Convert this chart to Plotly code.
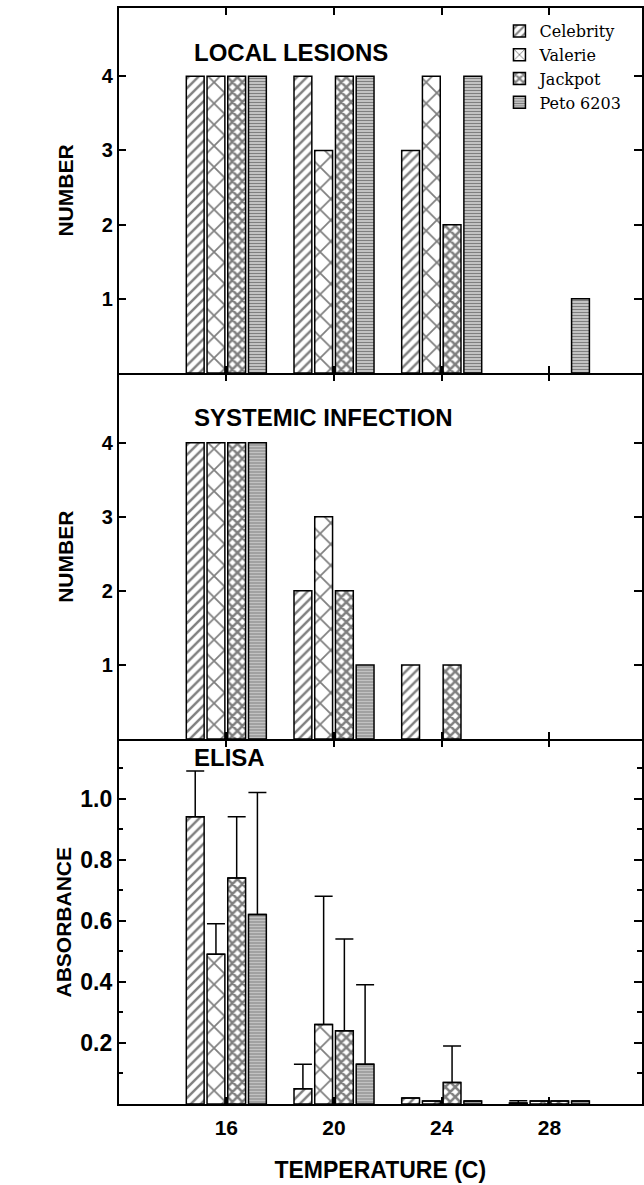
import plotly.graph_objects as go

# ---------------- data ----------------
temps = [16, 20, 24, 28]
cultivars = ["Celebrity", "Valerie", "Jackpot", "Peto 6203"]

local_lesions = {
    "Celebrity": [4, 4, 3, None],
    "Valerie":   [4, 3, 4, None],
    "Jackpot":   [4, 4, 2, None],
    "Peto 6203": [4, 4, 4, 1],
}
systemic_infection = {
    "Celebrity": [4, 2, 1, None],
    "Valerie":   [4, 3, None, None],
    "Jackpot":   [4, 2, 1, None],
    "Peto 6203": [4, 1, None, None],
}
elisa_mean = {
    "Celebrity": [0.94, 0.05, 0.02, 0.003],
    "Valerie":   [0.49, 0.26, 0.01, 0.01],
    "Jackpot":   [0.74, 0.24, 0.07, 0.01],
    "Peto 6203": [0.62, 0.13, 0.01, 0.01],
}
elisa_err = {
    "Celebrity": [0.15, 0.08, 0.0, 0.008],
    "Valerie":   [0.10, 0.42, 0.0, 0.0],
    "Jackpot":   [0.20, 0.30, 0.12, 0.0],
    "Peto 6203": [0.40, 0.26, 0.0, 0.0],
}
number_ticks = [1, 2, 3, 4]
abs_ticks = [0.2, 0.4, 0.6, 0.8, 1.0]
abs_tick_text = ["0.2", "0.4", "0.6", "0.8", "1.0"]
abs_minor = [0.1, 0.3, 0.5, 0.7, 0.9, 1.1]

# ---------------- styles ----------------
patterns = {
    "Celebrity": dict(shape="/", size=7, solidity=0.35, fgcolor="black", bgcolor="white"),
    "Valerie":   dict(shape="x", size=15, solidity=0.22, fgcolor="black", bgcolor="white"),
    "Jackpot":   dict(shape="x", size=7, solidity=0.6, fgcolor="black", bgcolor="white"),
    "Peto 6203": dict(shape="-", size=3, solidity=0.65, fgcolor="black", bgcolor="white"),
}

W, H = 644, 1185
def fy(px):
    return 1 - px / H

LW = 1.5
xdom = [119 / W, 1.0]
doms = [[fy(373), fy(8)], [fy(739), fy(373 + LW)], [fy(1104), fy(739 + LW)]]
ranges = [[0, 4.92], [0, 4.92], [0, 1.19]]
xrange_ = [12, 31.44]

fig = go.Figure()

panels = [local_lesions, systemic_infection, elisa_mean]
for i, data in enumerate(panels):
    xa = "x" if i == 0 else f"x{i+1}"
    ya = "y" if i == 0 else f"y{i+1}"
    for c in cultivars:
        kw = {}
        if i == 2:
            kw["error_y"] = dict(type="data", symmetric=False, array=elisa_err[c],
                                 arrayminus=[0] * len(temps), color="black",
                                 thickness=1.5, width=9)
        fig.add_trace(go.Bar(
            x=temps, y=data[c], name=c, legendgroup=c, showlegend=(i == 0),
            xaxis=xa, yaxis=ya,
            marker=dict(color="white", line=dict(color="black", width=1.5),
                        pattern=patterns[c]),
            **kw))

BLACK = "black"
num_font = dict(family="Liberation Sans", size=20, color=BLACK, weight=700)
abs_font = dict(family="Liberation Sans", size=23, color=BLACK, weight=700)
ytitle_font = dict(family="Liberation Sans", size=21, color=BLACK, weight=700)

fig.update_layout(
    width=W, height=H, margin=dict(l=0, r=0, t=0, b=0),
    paper_bgcolor="white", plot_bgcolor="white",
    barmode="group", bargap=0.23, bargroupgap=0.14,
    showlegend=True,
    legend=dict(x=501 / W, y=fy(14), xanchor="left", yanchor="top",
                bgcolor="rgba(0,0,0,0)",
                font=dict(family="DejaVu Serif", size=16, color=BLACK),
                itemwidth=30, tracegroupgap=0),
)

for i in range(3):
    xk = "xaxis" if i == 0 else f"xaxis{i+1}"
    yk = "yaxis" if i == 0 else f"yaxis{i+1}"
    ya = "y" if i == 0 else f"y{i+1}"
    xa = "x" if i == 0 else f"x{i+1}"
    xcfg = dict(range=xrange_, domain=xdom, anchor=ya, showline=True, linecolor=BLACK,
                linewidth=LW, mirror="ticks", ticks="inside",
                ticklen=7, tickcolor=BLACK, tickwidth=1.5, tickvals=temps,
                showgrid=False, zeroline=False, showticklabels=(i == 2))
    if i == 2:
        xcfg.update(tickfont=dict(family="Liberation Sans", size=21, color=BLACK, weight=700),
                    ticklabelstandoff=4,
                    title=dict(text="TEMPERATURE (C)", standoff=24,
                               font=dict(family="Liberation Sans", size=23, color=BLACK, weight=700)))
    fig.layout[xk] = xcfg
    ycfg = dict(domain=doms[i], range=ranges[i], anchor=xa, showline=True,
                linecolor=BLACK, linewidth=LW, mirror="ticks", ticks="inside", ticklen=8,
                tickcolor=BLACK, tickwidth=1.5, showgrid=False, zeroline=False)
    if i < 2:
        ycfg.update(tickvals=number_ticks, tickfont=num_font,
                    title=dict(text="NUMBER", standoff=22, font=ytitle_font))
    else:
        ycfg.update(tickvals=abs_ticks, ticktext=abs_tick_text, tickfont=abs_font,
                    minor=dict(tickvals=abs_minor, ticks="inside",
                               ticklen=5, tickcolor=BLACK, tickwidth=1.5),
                    title=dict(text="ABSORBANCE", standoff=3, font=ytitle_font))
    fig.layout[yk] = ycfg

title_font = dict(family="Liberation Sans", size=24, color=BLACK, weight=700)
panel_titles = ["LOCAL LESIONS", "SYSTEMIC INFECTION", "ELISA"]
title_y = [53, 417, 757]
for t, yp in zip(panel_titles, title_y):
    fig.add_annotation(text=t, xref="paper", yref="paper", x=193 / W, y=fy(yp),
                       xanchor="left", yanchor="middle", showarrow=False, font=title_font)

fig.write_html("out.html", config={"displayModeBar": False},
               post_script="document.body.style.margin='0';document.body.style.overflow='hidden';")
